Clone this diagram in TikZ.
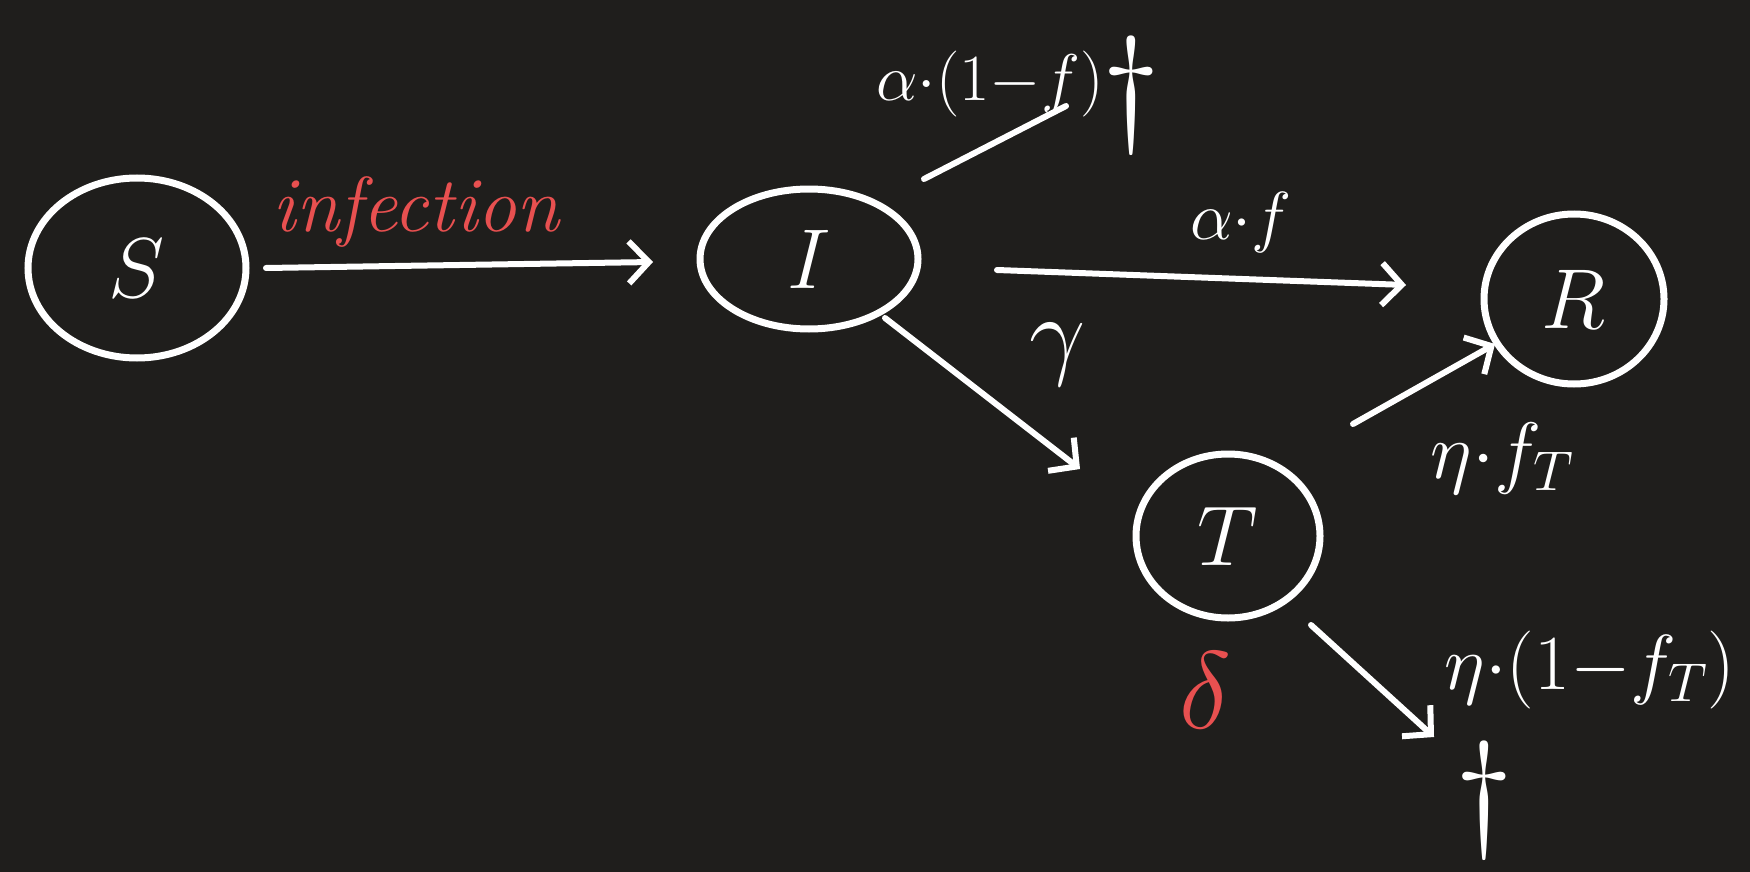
\RequirePackage{fix-cm}
\documentclass[tikz,border=0pt]{standalone}
\usetikzlibrary{shapes.geometric,arrows.meta}
\definecolor{bg}{HTML}{1F1E1C}
\definecolor{chalkred}{HTML}{E85050}
\begin{document}
\begin{tikzpicture}[x=1pt,y=-1pt,
  state/.style={draw=white,line width=7pt,ellipse,text=white,font=\fontsize{85}{100}\selectfont},
  flow/.style={draw=white,line width=6pt,line cap=round,-{Straight Barb[length=20pt,width=42pt,line width=6pt]}},
  plainflow/.style={draw=white,line width=6pt,line cap=round},
  lab/.style={text=white,font=\fontsize{68}{80}\selectfont},
  redlab/.style={text=chalkred,font=\fontsize{64}{76}\selectfont},
  deathmark/.style={text=white,font=\fontsize{130}{140}\selectfont}]
\fill[bg] (0,0) rectangle (1750,872);
\useasboundingbox (0,0) rectangle (1750,872);
% states
\node[state,minimum width=218pt,minimum height=180pt] (S) at (137,268) {$S$};
\node[state,minimum width=218pt,minimum height=140pt] (I) at (809,259) {$I$};
\node[state,minimum width=180pt,minimum height=170pt] (R) at (1574,299) {$R$};
\node[state,minimum width=184pt,minimum height=164pt] (T) at (1228,536) {$T$};
% death markers
\node[deathmark] (D1) at (1131,95) {$\dagger$};
\node[deathmark] (D2) at (1484,800) {$\dagger$};
% connector anchors
\coordinate (sI) at (266,268);
\coordinate (eI) at (653,262);
\coordinate (iR) at (997,270);
\coordinate (eR) at (1406,285);
\coordinate (iT) at (885,318);
\coordinate (eT) at (1080,469);
\coordinate (tR) at (1353,424);
\coordinate (eRt) at (1495,344);
\coordinate (iD) at (924,179);
\coordinate (eD) at (1066,106);
\coordinate (tD) at (1311,625);
\coordinate (eD2) at (1434,737);
% connectors
\draw[flow] (sI) -- (eI);
\draw[flow] (iR) -- (eR);
\draw[flow] (iT) -- (eT);
\draw[flow] (tR) -- (eRt);
\draw[plainflow] (iD) -- (eD);
\draw[flow] (tD) -- (eD2);
% labels
\node[redlab,font=\fontsize{78}{90}\selectfont\itshape] (linf) at (416,212) {infection};
\node[lab,font=\fontsize{66}{78}\selectfont] (la1) at (990,84) {$\alpha{\cdot}(1{-}f)$};
\node[lab] (laf) at (1241,222) {$\alpha{\cdot}f$};
\node[lab,font=\fontsize{100}{110}\selectfont] (lg) at (1058,355) {$\gamma$};
\node[lab,font=\fontsize{80}{90}\selectfont] (lef) at (1502,458) {$\eta{\cdot}f_T$};
\node[redlab,font=\fontsize{110}{120}\selectfont] (ld) at (1205,690) {$\delta$};
\node[lab,font=\fontsize{78}{88}\selectfont] (lef2) at (1590,670) {$\eta{\cdot}(1{-}f_T)$};
\end{tikzpicture}
\end{document}
